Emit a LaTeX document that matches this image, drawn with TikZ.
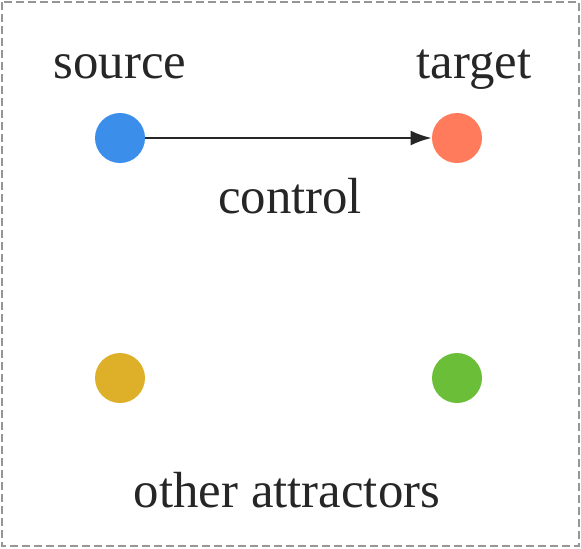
\documentclass[tikz,border=0pt]{standalone}
\usepackage{fontspec}
\setmainfont{Liberation Serif}
\usepackage{xcolor}
\definecolor{srcblue}{RGB}{59,142,234}
\definecolor{tgtred}{RGB}{255,123,92}
\definecolor{atgold}{RGB}{222,176,42}
\definecolor{atgreen}{RGB}{106,190,56}
\definecolor{framegray}{RGB}{150,150,150}
\usetikzlibrary{arrows.meta, positioning}

\begin{document}
\begin{tikzpicture}[x=0.5pt, y=-0.5pt,
  dot/.style={circle, minimum size=25pt, inner sep=0pt, draw=none},
  txt/.style={font=\fontsize{25.4}{30}\selectfont, text=black!85, anchor=base, inner sep=0pt}]
  % Frame
  \useasboundingbox (0,0) rectangle (581,548);
  \draw[framegray, line width=0.9pt, dash pattern=on 4pt off 2pt] (2,2) rectangle (579,546);

  % Attractors
  \node[dot, fill=srcblue] (src) at (120,138) {};
  \node[dot, fill=tgtred]  (tgt) at (457,138) {};
  \node[dot, fill=atgold]  (ag)  at (120,378) {};
  \node[dot, fill=atgreen] (agr) at (457,378) {};

  % Labels
  \node[txt] (srclbl) at (120,78) {source};
  \node[txt] (tgtlbl) at (474,78) {target};
  \node[txt] (ctrl)   at (290,213) {control};
  \node[txt] (other)  at (287,507) {other attractors};

  % Control arrow
  \draw[-{Latex[length=10.5pt, width=7.5pt]}, line width=1.1pt, black!85] (src) -- (tgt);
\end{tikzpicture}
\end{document}
